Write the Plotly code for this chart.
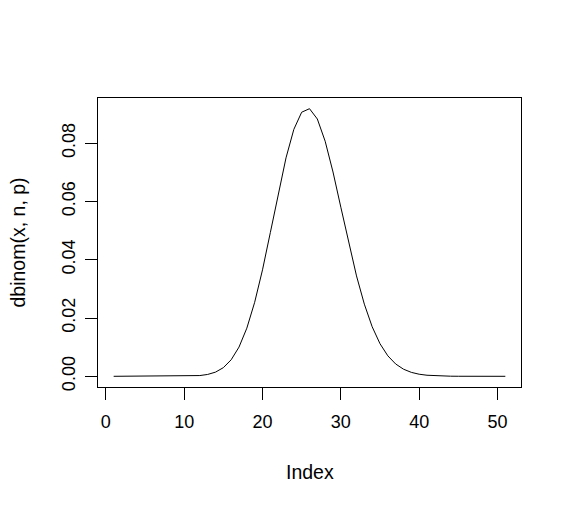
import plotly.graph_objects as go

# Index positions (1..51) and dbinom values
index = list(range(1, 52))
dbinom_vals = [
    3.2e-13, 1.1e-11, 1.8e-10, 1.92e-09, 1.553e-08, 9.937e-08, 5.2446e-07,
    2.3475e-06, 9.0967e-06, 3.0996e-05, 9.4021e-05, 0.00025642, 0.00063392,
    0.0014304, 0.0029629, 0.0056625, 0.010027, 0.016516, 0.025385, 0.036519,
    0.049301, 0.062604, 0.074935, 0.084709, 0.090592, 0.0918, 0.088269,
    0.080641, 0.070081, 0.057998, 0.045754, 0.034438, 0.024752, 0.017001,
    0.011168, 0.0070199, 0.0042249, 0.002436, 0.0013462, 0.00071337,
    0.00036263, 0.00017689, 8.283e-05, 3.7241e-05, 1.6081e-05, 6.6707e-06,
    2.6586e-06, 1.0182e-06, 3.7475e-07, 1.3257e-07, 4.507e-08,
]
x_ticks = [0, 10, 20, 30, 40, 50]
y_ticks = [0.00, 0.02, 0.04, 0.06, 0.08]
y_tick_labels = ["0.00", "0.02", "0.04", "0.06", "0.08"]

FONT = "Liberation Sans, Arial, sans-serif"
TICK_SIZE = 18
TITLE_SIZE = 19.5

xmin, xmax = min(index), max(index)
ymin, ymax = min(dbinom_vals), max(dbinom_vals)
xpad = 0.04 * (xmax - xmin)
ypad = 0.04 * (ymax - ymin)

fig = go.Figure()
fig.add_trace(go.Scatter(
    x=index, y=dbinom_vals, mode="lines",
    line=dict(color="black", width=1),
    hoverinfo="skip", showlegend=False,
))

fig.update_layout(
    width=564, height=502,
    margin=dict(l=90, r=51, t=90, b=123),
    paper_bgcolor="white", plot_bgcolor="white",
    font=dict(family=FONT, size=TICK_SIZE, color="black"),
    xaxis=dict(
        range=[xmin - xpad, xmax + xpad],
        tickvals=x_ticks, ticktext=[str(v) for v in x_ticks],
        ticks="outside", ticklen=12, tickwidth=1, tickcolor="black",
        ticklabelstandoff=6,
        showline=True, mirror=True, linecolor="black", linewidth=1,
        showgrid=False, zeroline=False,
        tickfont=dict(family=FONT, size=TICK_SIZE, color="black"),
    ),
    yaxis=dict(
        range=[ymin - ypad, ymax + ypad],
        tickvals=y_ticks, ticktext=y_tick_labels,
        tickangle=-90,
        ticks="outside", ticklen=12, tickwidth=1, tickcolor="black",
        ticklabelstandoff=3,
        showline=True, mirror=True, linecolor="black", linewidth=1,
        showgrid=False, zeroline=False,
        tickfont=dict(family=FONT, size=TICK_SIZE, color="black"),
    ),
    annotations=[
        dict(text="Index", xref="paper", yref="paper", x=0.5, y=(387 - 472) / 289,
             xanchor="center", yanchor="middle", showarrow=False,
             font=dict(family=FONT, size=TITLE_SIZE, color="black")),
        dict(text="dbinom(x, n, p)", xref="paper", yref="paper", x=(17 - 98) / 423, y=0.5,
             xanchor="center", yanchor="middle", textangle=-90, showarrow=False,
             font=dict(family=FONT, size=TITLE_SIZE, color="black")),
    ],
)

fig.write_html("out.html")
